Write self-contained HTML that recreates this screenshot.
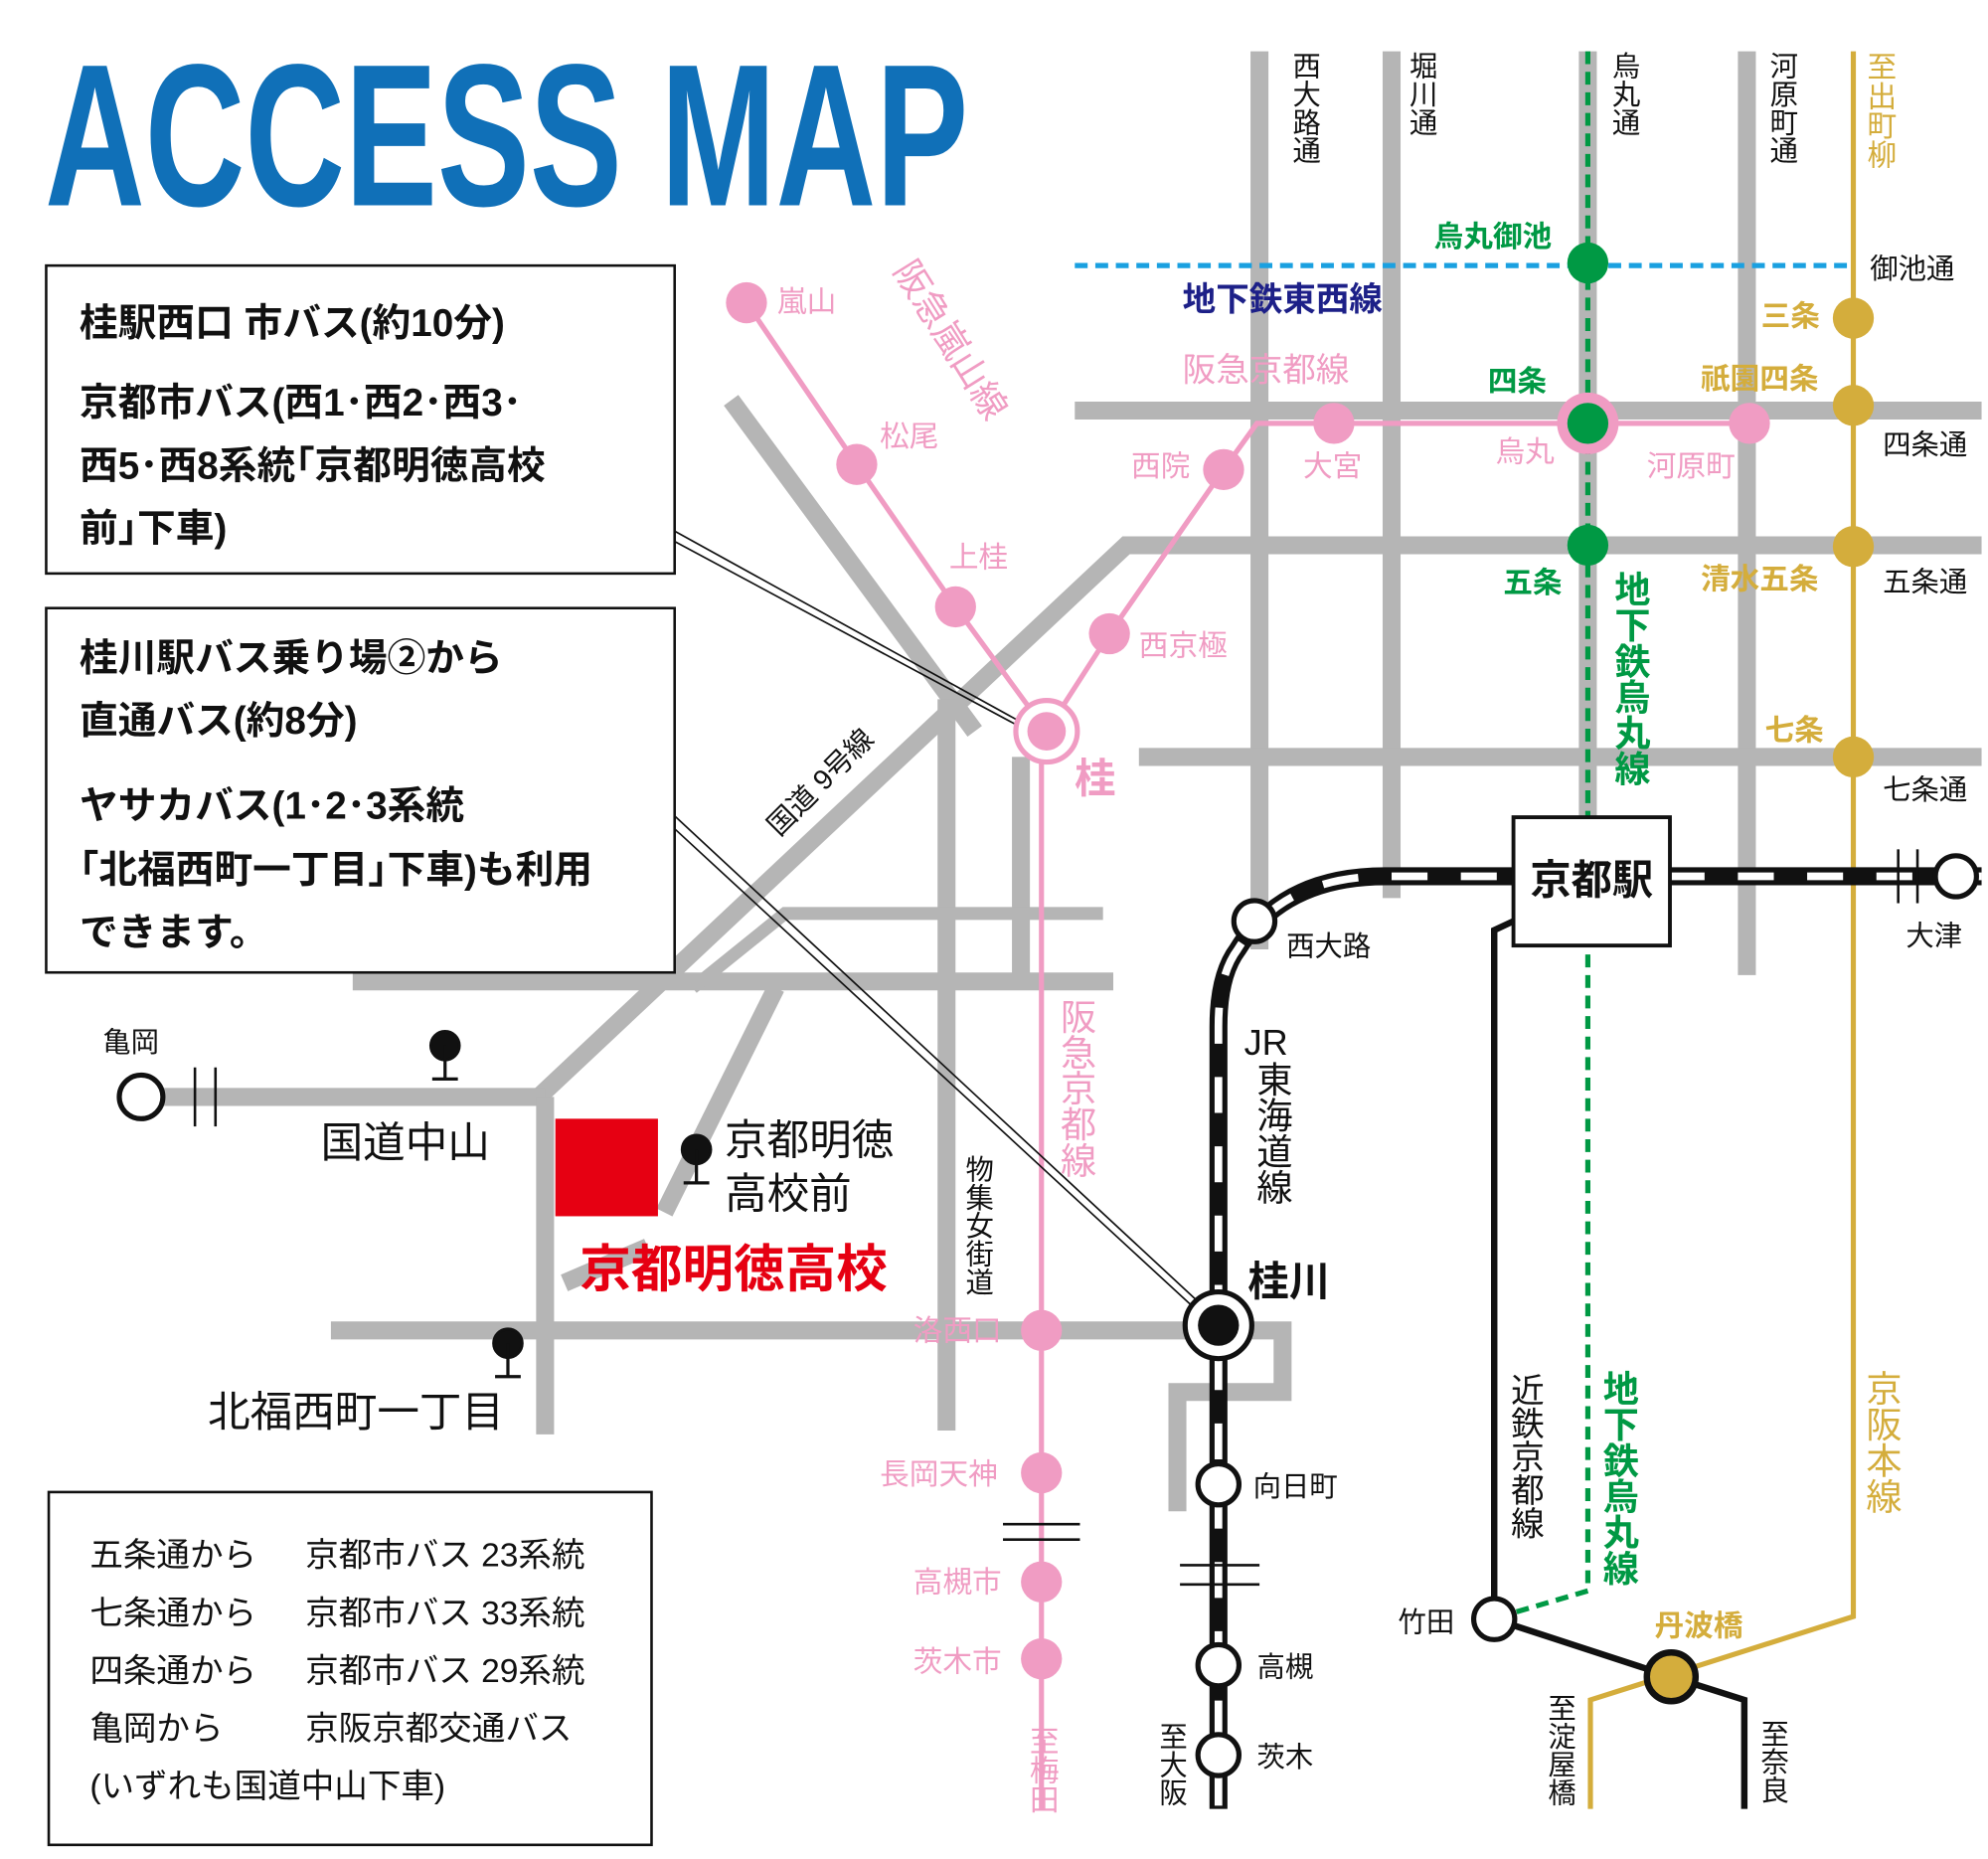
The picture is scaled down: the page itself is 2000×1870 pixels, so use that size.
<!DOCTYPE html>
<html><head><meta charset="utf-8">
<style>
html,body{margin:0;padding:0;background:#fff;}
svg{display:block;}
text{font-family:"Liberation Sans","Noto Sans CJK JP",sans-serif;}
.v{writing-mode:vertical-rl;text-orientation:upright;}
.pk{fill:#f09cc3;font-size:23px;}
.gr{fill:#009944;font-size:23px;font-weight:bold;}
.gd{fill:#d4ad3c;font-size:23px;font-weight:bold;}
.bk{fill:#111;font-size:22px;}
.bx{fill:#111;font-size:30px;font-weight:bold;}
.lg{fill:#111;font-size:26px;}
</style></head>
<body>
<svg width="2000" height="1870" viewBox="0 0 1550 1449" preserveAspectRatio="none" xmlns="http://www.w3.org/2000/svg">
<rect width="1550" height="1449" fill="#fff"/>
<text x="35" y="160" font-size="158" font-weight="bold" fill="#1070b8" textLength="720" lengthAdjust="spacingAndGlyphs">ACCESS MAP</text>

<!-- gray roads -->
<g stroke="#b5b5b5" stroke-width="14" fill="none">
<line x1="982" y1="40" x2="982" y2="740"/>
<line x1="1085" y1="40" x2="1085" y2="700"/>
<line x1="1238" y1="40" x2="1238" y2="640"/>
<line x1="1362" y1="40" x2="1362" y2="760"/>
<line x1="838" y1="320" x2="1545" y2="320"/>
<polyline points="1545,425 878,425 420,855"/>
<line x1="888" y1="590" x2="1545" y2="590"/>
<line x1="570" y1="312" x2="760" y2="570"/>
<line x1="738" y1="545" x2="738" y2="1115"/>
<line x1="796" y1="590" x2="796" y2="760"/>
<line x1="275" y1="765" x2="868" y2="765"/>
<line x1="100" y1="855" x2="425" y2="855"/>
<line x1="425" y1="855" x2="425" y2="1118"/>
<polyline points="258,1037 1000,1037 1000,1085 918,1085 918,1178"/>
<line x1="605" y1="770" x2="518" y2="945"/>
<line x1="440" y1="1000" x2="505" y2="972"/>
</g>
<g stroke="#b5b5b5" stroke-width="10" fill="none">
<polyline points="860,712 612,712 540,770"/>
</g>

<!-- blue dashed Tozai -->
<line x1="838" y1="207" x2="1445" y2="207" stroke="#1aa0e0" stroke-width="4" stroke-dasharray="10 6"/>
<!-- green Karasuma -->
<polyline points="1238,40 1238,1240 1170,1260" fill="none" stroke="#009944" stroke-width="4" stroke-dasharray="10 6"/>
<!-- Keihan gold -->
<polyline points="1445,40 1445,1260 1240,1325 1240,1410" fill="none" stroke="#d4ad3c" stroke-width="4"/>
<!-- Kintetsu -->
<polyline points="1180,718 1165,725 1165,1262 1303,1307 1360,1325 1360,1410" fill="none" stroke="#111" stroke-width="5"/>

<!-- Hankyu pink -->
<g stroke="#f09cc3" stroke-width="4" fill="none">
<polyline points="582,236 668,362 745,473 816,570"/>
<polyline points="816,570 865,494 954,366 980,330 1364,330"/>
<line x1="812" y1="570" x2="812" y2="1410"/>
</g>
<g stroke="#111" stroke-width="2">
<line x1="782" y1="1188" x2="842" y2="1188"/><line x1="782" y1="1200" x2="842" y2="1200"/>
</g>

<!-- callout lines -->
<g stroke="#111" stroke-width="1.3" fill="none">
<line x1="526" y1="414" x2="800" y2="565"/><line x1="526" y1="422" x2="800" y2="569"/>
<line x1="526" y1="636" x2="940" y2="1020"/><line x1="526" y1="646" x2="936" y2="1024"/>
</g>

<!-- JR line -->
<path d="M1545,683 L1080,683 Q1000,683 965,740 Q950,760 950,800 L950,1410" fill="none" stroke="#111" stroke-width="14"/>
<path d="M1545,683 L1080,683 Q1000,683 965,740 Q950,760 950,800 L950,1410" fill="none" stroke="#fff" stroke-width="6" stroke-dasharray="28 26"/>
<g stroke="#111" stroke-width="2">
<line x1="920" y1="1220" x2="982" y2="1220"/><line x1="920" y1="1235" x2="982" y2="1235"/>
<line x1="1480" y1="662" x2="1480" y2="704"/><line x1="1495" y1="662" x2="1495" y2="704"/>
<line x1="152" y1="832" x2="152" y2="878"/><line x1="168" y1="832" x2="168" y2="878"/>
</g>

<!-- Kyoto station box -->
<rect x="1180" y="637" width="122" height="100" fill="#fff" stroke="#111" stroke-width="3"/>
<text x="1241" y="697" text-anchor="middle" font-size="32" font-weight="bold" fill="#111">京都駅</text>

<!-- pink stations -->
<g fill="#f09cc3">
<circle cx="582" cy="236" r="16"/><circle cx="668" cy="362" r="16"/><circle cx="745" cy="473" r="16"/>
<circle cx="865" cy="494" r="16"/><circle cx="954" cy="366" r="16"/><circle cx="1040" cy="330" r="16"/>
<circle cx="1364" cy="330" r="16"/><circle cx="1238" cy="330" r="24"/>
<circle cx="812" cy="1037" r="16"/><circle cx="812" cy="1148" r="16"/><circle cx="812" cy="1233" r="16"/><circle cx="812" cy="1293" r="16"/>
</g>
<circle cx="816" cy="570" r="24" fill="#fff" stroke="#f09cc3" stroke-width="4"/>
<circle cx="816" cy="570" r="15" fill="#f09cc3"/>
<!-- green stations -->
<g fill="#009944"><circle cx="1238" cy="205" r="16"/><circle cx="1238" cy="330" r="16"/><circle cx="1238" cy="425" r="16"/></g>
<!-- gold stations -->
<g fill="#d4ad3c"><circle cx="1445" cy="248" r="16"/><circle cx="1445" cy="316" r="16"/><circle cx="1445" cy="426" r="16"/><circle cx="1445" cy="590" r="16"/></g>
<circle cx="1303" cy="1307" r="19" fill="#d4ad3c" stroke="#111" stroke-width="5"/>
<!-- JR / white stations -->
<g fill="#fff" stroke="#111" stroke-width="4">
<circle cx="978" cy="718" r="16"/><circle cx="950" cy="1157" r="16"/><circle cx="950" cy="1298" r="16"/><circle cx="950" cy="1368" r="16"/>
<circle cx="1525" cy="683" r="16"/><circle cx="110" cy="855" r="17"/><circle cx="1165" cy="1262" r="16"/>
<circle cx="950" cy="1033" r="26"/>
</g>
<circle cx="950" cy="1033" r="16" fill="#111"/>

<!-- bus stops -->
<g fill="#111" stroke="#111" stroke-width="2.5">
<circle cx="347" cy="815" r="11"/><line x1="347" y1="815" x2="347" y2="841"/><line x1="337" y1="841" x2="357" y2="841"/>
<circle cx="543" cy="896" r="11"/><line x1="543" y1="896" x2="543" y2="922"/><line x1="533" y1="922" x2="553" y2="922"/>
<circle cx="396" cy="1047" r="11"/><line x1="396" y1="1047" x2="396" y2="1073"/><line x1="386" y1="1073" x2="406" y2="1073"/>
</g>

<!-- school -->
<rect x="433" y="872" width="80" height="76" fill="#e60012"/>
<text x="452" y="1003" font-size="40" font-weight="bold" fill="#e60012">京都明徳高校</text>

<!-- boxes -->
<g fill="#fff" stroke="#111" stroke-width="2">
<rect x="36" y="207" width="490" height="240"/>
<rect x="36" y="474" width="490" height="284"/>
<rect x="38" y="1163" width="470" height="275"/>
</g>
<g class="bx">
<text x="62" y="262">桂駅西口 市バス(約10分)</text>
<text x="62" y="324">京都市バス(西1･西2･西3･</text>
<text x="62" y="373">西5･西8系統｢京都明徳高校</text>
<text x="62" y="422">前｣下車)</text>
<text x="62" y="523">桂川駅バス乗り場②から</text>
<text x="62" y="572">直通バス(約8分)</text>
<text x="62" y="638">ヤサカバス(1･2･3系統</text>
<text x="62" y="688">｢北福西町一丁目｣下車)も利用</text>
<text x="62" y="737">できます。</text>
</g>
<g class="lg">
<text x="70" y="1221">五条通から</text><text x="238" y="1221">京都市バス 23系統</text>
<text x="70" y="1266">七条通から</text><text x="238" y="1266">京都市バス 33系統</text>
<text x="70" y="1311">四条通から</text><text x="238" y="1311">京都市バス 29系統</text>
<text x="70" y="1356">亀岡から</text><text x="238" y="1356">京阪京都交通バス</text>
<text x="70" y="1401">(いずれも国道中山下車)</text>
</g>

<!-- place labels -->
<text x="250" y="902" font-size="33" fill="#111">国道中山</text>
<text x="565" y="900" font-size="33" fill="#111">京都明徳</text>
<text x="565" y="942" font-size="33" fill="#111">高校前</text>
<text x="162" y="1112" font-size="33" fill="#111">北福西町一丁目</text>
<text x="80" y="820" class="bk">亀岡</text>
<text x="645" y="615" font-size="22" fill="#111" transform="rotate(-45 645 615)" text-anchor="middle">国道 9号線</text>

<!-- vertical road names -->
<g class="bk">
<text class="v" x="1017" y="40">西大路通</text>
<text class="v" x="1108" y="40">堀川通</text>
<text class="v" x="1266" y="40">烏丸通</text>
<text class="v" x="1389" y="40">河原町通</text>
<text class="v" x="762" y="900">物集女街道</text>
<text class="v" x="1188" y="1070" style="font-size:26px">近鉄京都線</text>
<text class="v" x="1216" y="1320">至淀屋橋</text>
<text class="v" x="1382" y="1340">至奈良</text>
<text class="v" x="913" y="1342">至大阪</text>
<text class="v" x="992" y="827" style="font-size:28px">東海道線</text>
</g>
<text x="970" y="822" font-size="28" fill="#111">JR</text>
<text class="v gd" x="1465" y="40" style="font-weight:normal">至出町柳</text>
<text class="v gd" x="1467" y="1068" style="font-size:28px;font-weight:normal">京阪本線</text>
<text class="v gr" x="1271" y="445" style="font-size:28px">地下鉄烏丸線</text>
<text class="v gr" x="1262" y="1068" style="font-size:28px">地下鉄烏丸線</text>
<text class="v pk" x="839" y="778" style="font-size:28px">阪急京都線</text>
<text class="v pk" x="812" y="1345">至梅田</text>
<text class="pk" x="733" y="270" style="font-size:28px" transform="rotate(58 733 270)" text-anchor="middle">阪急嵐山線</text>

<g class="bk">
<text x="1458" y="217">御池通</text>
<text x="1468" y="354">四条通</text>
<text x="1468" y="461">五条通</text>
<text x="1468" y="623">七条通</text>
<text x="1003" y="745">西大路</text>
<text x="1486" y="737">大津</text>
<text x="977" y="1166">向日町</text>
<text x="980" y="1307">高槻</text>
<text x="980" y="1377">茨木</text>
<text x="1090" y="1272">竹田</text>
</g>
<text x="973" y="1010" font-size="32" font-weight="bold" fill="#111">桂川</text>

<g class="pk">
<text x="606" y="243">嵐山</text>
<text x="686" y="348">松尾</text>
<text x="740" y="442">上桂</text>
<text x="888" y="511">西京極</text>
<text x="882" y="371">西院</text>
<text x="1016" y="371">大宮</text>
<text x="1166" y="360">烏丸</text>
<text x="1284" y="371">河原町</text>
<text x="922" y="297" style="font-size:26px">阪急京都線</text>
<text x="712" y="1045">洛西口</text>
<text x="686" y="1157">長岡天神</text>
<text x="712" y="1241">高槻市</text>
<text x="712" y="1303">茨木市</text>
<text x="838" y="618" style="font-size:32px;font-weight:bold">桂</text>
</g>
<g class="gr">
<text x="1118" y="192">烏丸御池</text>
<text x="1160" y="305">四条</text>
<text x="1172" y="462">五条</text>
</g>
<text x="922" y="242" font-size="26" font-weight="bold" fill="#1d2088">地下鉄東西線</text>
<g class="gd">
<text x="1373" y="254">三条</text>
<text x="1326" y="303">祇園四条</text>
<text x="1326" y="459">清水五条</text>
<text x="1376" y="577">七条</text>
<text x="1290" y="1275">丹波橋</text>
</g>
</svg>
</body></html>
